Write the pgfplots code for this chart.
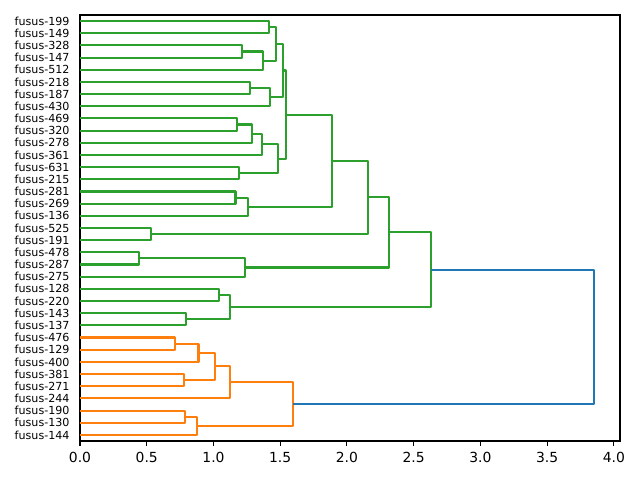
\documentclass[border=0pt]{standalone}
\usepackage{pgfplots}
\pgfplotsset{compat=1.18}
\usepackage{fontspec}
\setmainfont{DejaVu Sans}
\definecolor{mplblue}{HTML}{1F77B4}
\definecolor{mplorange}{HTML}{FF7F0E}
\definecolor{mplgreen}{HTML}{2CA02C}

\begin{document}
\begin{tikzpicture}
\begin{axis}[
  name=ax,
  scale only axis,
  width=388.8pt, height=306.7pt,
  xmin=0, xmax=4.046, ymin=0, ymax=350,
  axis line style={line width=0.8pt},
  xtick={0,0.5,1,1.5,2,2.5,3,3.5,4},
  xticklabels={0.0,0.5,1.0,1.5,2.0,2.5,3.0,3.5,4.0},
  xtick align=outside,
  xtick pos=bottom,
  major tick length=3.5pt,
  xtick style={line width=0.8pt, black},
  xticklabel style={font=\fontsize{10}{12}\selectfont, yshift=-1pt},
  ytick={5,15,...,345},
  yticklabels={fusus-144,fusus-130,fusus-190,fusus-244,fusus-271,fusus-381,fusus-400,fusus-129,fusus-476,fusus-137,fusus-143,fusus-220,fusus-128,fusus-275,fusus-287,fusus-478,fusus-191,fusus-525,fusus-136,fusus-269,fusus-281,fusus-215,fusus-631,fusus-361,fusus-278,fusus-320,fusus-469,fusus-430,fusus-187,fusus-218,fusus-512,fusus-147,fusus-328,fusus-149,fusus-199},
  ytick style={draw=none},
  yticklabel style={font=\fontsize{8}{9.6}\selectfont, xshift=-4pt},
  /pgf/number format/assume math mode=true,
  every axis plot/.append style={line width=1.5pt, mark=none, line join=round},
  clip=false,
]
% lower cluster
\addplot[mplorange] coordinates {(0,25)(0.788,25)(0.788,15)(0,15)};
\addplot[mplorange] coordinates {(0.788,20)(0.880,20)(0.880,5)(0,5)};
\addplot[mplorange] coordinates {(0,85)(0.713,85)(0.713,75)(0,75)};
\addplot[mplorange] coordinates {(0.713,80)(0.888,80)(0.888,65)(0,65)};
\addplot[mplorange] coordinates {(0,55)(0.778,55)(0.778,45)(0,45)};
\addplot[mplorange] coordinates {(0.888,72.5)(1.013,72.5)(1.013,50)(0.778,50)};
\addplot[mplorange] coordinates {(1.013,61.25)(1.125,61.25)(1.125,35)(0,35)};
\addplot[mplorange] coordinates {(1.125,48.125)(1.595,48.125)(1.595,12.5)(0.880,12.5)};
% upper cluster
\addplot[mplgreen] coordinates {(0,105)(0.795,105)(0.795,95)(0,95)};
\addplot[mplgreen] coordinates {(0,125)(1.043,125)(1.043,115)(0,115)};
\addplot[mplgreen] coordinates {(1.043,120)(1.125,120)(1.125,100)(0.795,100)};
\addplot[mplgreen] coordinates {(0,155)(0.440,155)(0.440,145)(0,145)};
\addplot[mplgreen] coordinates {(0.440,150)(1.233,150)(1.233,135)(0,135)};
\addplot[mplgreen] coordinates {(0,175)(0.533,175)(0.533,165)(0,165)};
\addplot[mplgreen] coordinates {(0,205)(1.165,205)(1.165,195)(0,195)};
\addplot[mplgreen] coordinates {(1.165,200)(1.258,200)(1.258,185)(0,185)};
\addplot[mplgreen] coordinates {(0,265)(1.175,265)(1.175,255)(0,255)};
\addplot[mplgreen] coordinates {(1.175,260)(1.288,260)(1.288,245)(0,245)};
\addplot[mplgreen] coordinates {(1.288,252.5)(1.365,252.5)(1.365,235)(0,235)};
\addplot[mplgreen] coordinates {(0,225)(1.193,225)(1.193,215)(0,215)};
\addplot[mplgreen] coordinates {(1.365,243.75)(1.483,243.75)(1.483,220)(1.193,220)};
\addplot[mplgreen] coordinates {(0,325)(1.213,325)(1.213,315)(0,315)};
\addplot[mplgreen] coordinates {(1.213,320)(1.368,320)(1.368,305)(0,305)};
\addplot[mplgreen] coordinates {(0,345)(1.418,345)(1.418,335)(0,335)};
\addplot[mplgreen] coordinates {(1.418,340)(1.468,340)(1.468,312.5)(1.368,312.5)};
\addplot[mplgreen] coordinates {(0,295)(1.275,295)(1.275,285)(0,285)};
\addplot[mplgreen] coordinates {(1.275,290)(1.425,290)(1.425,275)(0,275)};
\addplot[mplgreen] coordinates {(1.468,326.25)(1.518,326.25)(1.518,282.5)(1.425,282.5)};
\addplot[mplgreen] coordinates {(1.518,304.375)(1.543,304.375)(1.543,231.875)(1.483,231.875)};
\addplot[mplgreen] coordinates {(1.543,268.125)(1.890,268.125)(1.890,192.5)(1.258,192.5)};
\addplot[mplgreen] coordinates {(1.890,230.3125)(2.158,230.3125)(2.158,170)(0.533,170)};
\addplot[mplgreen] coordinates {(2.158,200.15625)(2.318,200.15625)(2.318,142.5)(1.233,142.5)};
\addplot[mplgreen] coordinates {(2.318,171.328)(2.633,171.328)(2.633,110)(1.125,110)};
% root link
\addplot[mplblue] coordinates {(2.633,140.664)(3.853,140.664)(3.853,30.3125)(1.595,30.3125)};
\end{axis}
\pgfresetboundingbox
\path ([shift={(-57.6pt,-28.08pt)}]ax.south west) rectangle ([shift={(14.4pt,10.8pt)}]ax.north east);
\end{tikzpicture}
\end{document}
